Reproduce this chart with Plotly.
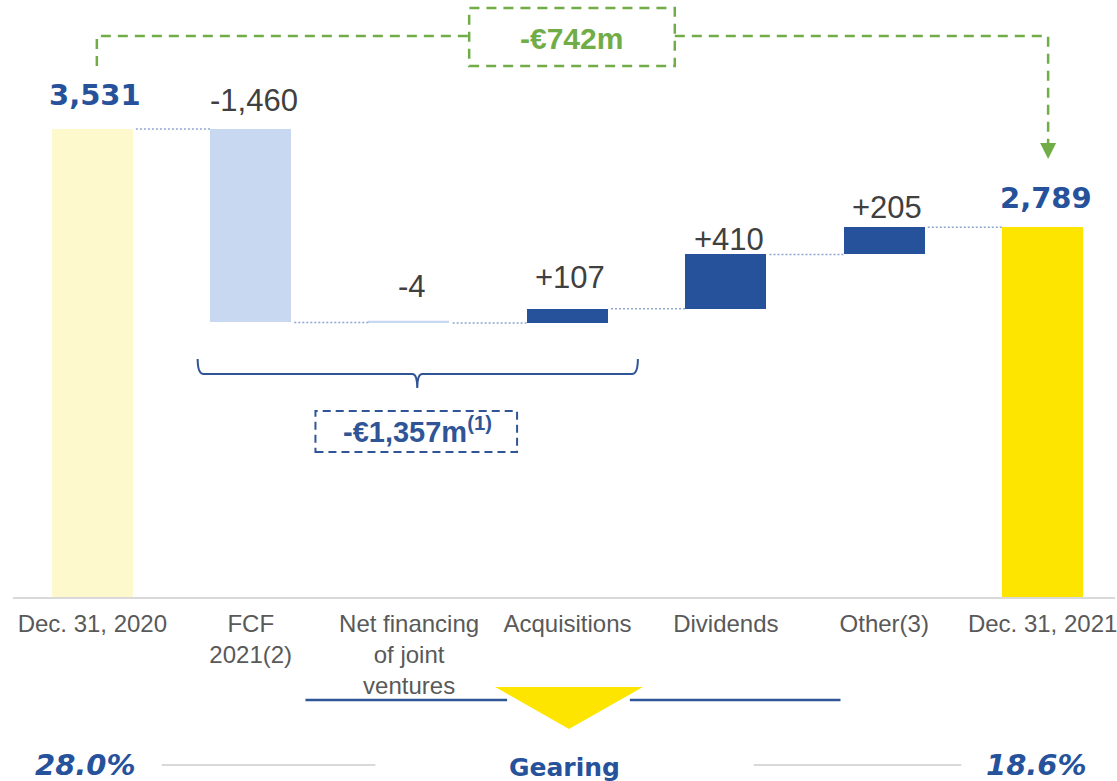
import plotly.graph_objects as go

# Net debt bridge, EUR m
categories = ["Dec. 31, 2020", "FCF<br>2021(2)", "Net financing<br>of joint<br>ventures",
              "Acquisitions", "Dividends", "Other(3)", "Dec. 31, 2021"]
opening = 3531
changes = [-1460, -4, 107, 410, 205]
closing = 2789
value_labels = ["3,531", "-1,460", "-4", "+107", "+410", "+205", "2,789"]
gearing_start = "28.0%"
gearing_end = "18.6%"
total_change = "-€742m"
operating_change = "-€1,357m"

DARK_BLUE = "#26519B"
LIGHT_BLUE = "#C7D8F0"
PALE_YELLOW = "#FEF9CD"
YELLOW = "#FDE500"
GREEN = "#70AD47"
GREY_TXT = "#595959"

# plot area in pixels (used for the decorations around the bars)
PL, PW, PH = 13, 1104, 597


def px(x):
    return (x - PL) / PW


def py(y):
    return (PH - y) / PH


# build the waterfall bars
bases, heights, colors, tops, levels = [0], [opening], [PALE_YELLOW], [opening], [opening]
running = opening
for c in changes:
    if c < 0:
        bases.append(running + c)
        heights.append(-c)
        colors.append(LIGHT_BLUE)
        tops.append(running)
    else:
        bases.append(running)
        heights.append(c)
        colors.append(DARK_BLUE)
        tops.append(running + c)
    running += c
    levels.append(running)
bases.append(0)
heights.append(closing)
colors.append(YELLOW)
tops.append(closing)

xs = list(range(len(categories)))
bar_w = 0.51

fig = go.Figure()
fig.add_trace(go.Bar(x=xs, y=heights, base=bases, width=bar_w,
                     marker=dict(color=colors,
                                 line=dict(color=[LIGHT_BLUE if h < 10 else c for h, c in zip(heights, colors)],
                                           width=[1.2 if h < 10 else 0 for h in heights])),
                     hoverinfo="skip", showlegend=False))

# dotted connectors between bars
cx, cy = [], []
for i in range(len(categories) - 1):
    cx += [i + bar_w / 2 + 0.02, i + 1 - bar_w / 2, None]
    cy += [levels[i], levels[i], None]
fig.add_trace(go.Scatter(x=cx, y=cy, mode="lines", hoverinfo="skip", showlegend=False,
                         line=dict(color="#8FA5D3", width=1.5, dash="2px,2px")))

# value labels above bars
label_shift = [34, 28, 36, 31, 15, 20, 29]
for i, (t, lab) in enumerate(zip(tops, value_labels)):
    bold = i in (0, len(categories) - 1)
    fig.add_annotation(x=i, y=t, text="<b>%s</b>" % lab if bold else lab, showarrow=False,
                       xshift=3, yshift=label_shift[i], yanchor="middle",
                       font=dict(family="DejaVu Sans" if bold else "Liberation Sans",
                                 size=29 if bold else 31,
                                 color=DARK_BLUE if bold else "#404040"))

shapes = []
green_line = dict(color=GREEN, width=2.5, dash="10px,7px")
# top bracket: total change
shapes.append(dict(type="path", xref="paper", yref="paper", line=green_line,
                   path="M %f,%f L %f,%f L %f,%f" % (px(97), py(66), px(97), py(36), px(470), py(36))))
shapes.append(dict(type="path", xref="paper", yref="paper", line=green_line,
                   path="M %f,%f L %f,%f L %f,%f" % (px(676), py(36), px(1050), py(36), px(1050), py(143))))
shapes.append(dict(type="rect", xref="paper", yref="paper", line=green_line,
                   x0=px(470), x1=px(676), y0=py(66), y1=py(8)))
shapes.append(dict(type="path", xref="paper", yref="paper", fillcolor=GREEN, line=dict(width=0),
                   path="M %f,%f L %f,%f L %f,%f Z" % (px(1042), py(143), px(1058), py(143), px(1050), py(159))))

# brace under FCF .. Acquisitions
brace = ("M {a},{t} Q {a},{m} {a2},{m} L {c1},{m} Q {c},{m} {c},{b} "
         "Q {c},{m} {c2},{m} L {e2},{m} Q {e},{m} {e},{t}").format(
    a=px(198), a2=px(204), c1=px(413), c=px(418), c2=px(423), e2=px(633), e=px(639),
    t=py(359), m=py(374), b=py(388))
shapes.append(dict(type="path", xref="paper", yref="paper", path=brace,
                   line=dict(color="#2F5597", width=2)))
shapes.append(dict(type="rect", xref="paper", yref="paper",
                   line=dict(color="#2F5597", width=2, dash="8px,5px"),
                   x0=px(316), x1=px(518), y0=py(452), y1=py(411)))

# gearing decoration
for x0, x1 in [(306, 508), (631, 842)]:
    shapes.append(dict(type="line", xref="paper", yref="paper", x0=px(x0), x1=px(x1),
                       y0=py(700), y1=py(700), line=dict(color="#2F5597", width=2.5)))
shapes.append(dict(type="path", xref="paper", yref="paper", fillcolor=YELLOW, line=dict(width=0),
                   path="M %f,%f L %f,%f L %f,%f Z" % (px(496), py(687), px(644), py(687), px(570), py(729))))
for x0, x1 in [(162, 376), (755, 963)]:
    shapes.append(dict(type="line", xref="paper", yref="paper", x0=px(x0), x1=px(x1),
                       y0=py(765), y1=py(765), line=dict(color="#D9D9D9", width=2)))

centred = dict(xref="paper", yref="paper", showarrow=False, xanchor="center", yanchor="middle")
fig.add_annotation(x=px(573), y=py(38), text="<b>%s</b>" % total_change,
                   font=dict(family="Liberation Sans", size=30, color=GREEN), **centred)
fig.add_annotation(x=px(418), y=py(430), text="<b>%s<sup>(1)</sup></b>" % operating_change,
                   font=dict(family="Liberation Sans", size=29, color="#2F5597"), **centred)
fig.add_annotation(x=px(86), y=py(765), text="<b><i>%s</i></b>" % gearing_start,
                   font=dict(family="DejaVu Sans", size=29, color=DARK_BLUE), **centred)
fig.add_annotation(x=px(1038), y=py(765), text="<b><i>%s</i></b>" % gearing_end,
                   font=dict(family="DejaVu Sans", size=29, color=DARK_BLUE), **centred)
fig.add_annotation(x=px(566), y=py(767), text="<b>Gearing</b>",
                   font=dict(family="DejaVu Sans", size=25, color=DARK_BLUE), **centred)

fig.update_layout(
    width=1117, height=781,
    margin=dict(l=PL, r=1117 - PL - PW, t=0, b=781 - PH, pad=0),
    paper_bgcolor="white", plot_bgcolor="white",
    font=dict(family="Liberation Sans"),
    shapes=shapes,
    bargap=0,
    xaxis=dict(range=[-0.501, 6.457], tickvals=xs, ticktext=categories, ticks="",
               ticklabelstandoff=4, ticklabeloverflow="allow",
               showgrid=False, zeroline=False, showline=True, linecolor="#D9D9D9", linewidth=2,
               tickfont=dict(size=24, color=GREY_TXT), fixedrange=True),
    yaxis=dict(range=[0, 4504], visible=False, fixedrange=True),
)

# the page is exactly the chart size, so drop the default body margin
fig.write_html("out.html", config={"displayModeBar": False},
               post_script="document.body.style.margin='0';")
